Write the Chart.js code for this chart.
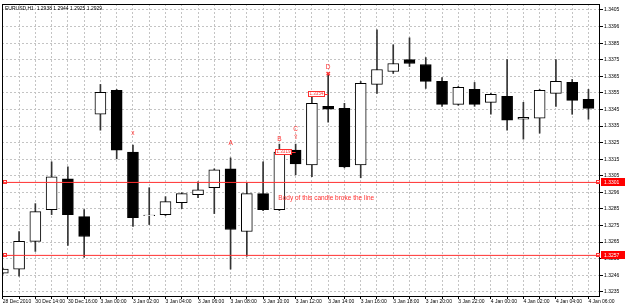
<!DOCTYPE html>
<html>
<head>
<meta charset="utf-8">
<script src="https://cdn.jsdelivr.net/npm/chart.js@4"></script>
<style>
  body { margin: 0; background: #fff; }
  #wrap { width: 625px; height: 308px; position: relative; }
</style>
</head>
<body>
<div id="wrap"><canvas id="chart"></canvas></div>
<script>
// EURUSD H1 candles
const opens  = [1.32463, 1.32487, 1.32654, 1.32846, 1.33032, 1.32804, 1.33421, 1.33565, 1.33193, 1.32810,
                1.32816, 1.32888, 1.32936, 1.32978, 1.33092, 1.32714, 1.32942, 1.32846, 1.33205, 1.33116,
                1.33469, 1.33457, 1.33116, 1.33601, 1.33679, 1.33751, 1.33721, 1.33619, 1.33481, 1.33571,
                1.33493, 1.33529, 1.33391, 1.33397, 1.33547, 1.33613, 1.33511];
const highs  = [1.32493, 1.32714, 1.32882, 1.33134, 1.33104, 1.32846, 1.33601, 1.33571, 1.33235, 1.32978,
                1.32924, 1.32948, 1.33014, 1.33092, 1.33158, 1.33008, 1.33134, 1.33241, 1.33241, 1.33541,
                1.33661, 1.33487, 1.33619, 1.33930, 1.33840, 1.33882, 1.33763, 1.33643, 1.33589, 1.33613,
                1.33547, 1.33751, 1.33493, 1.33571, 1.33751, 1.33631, 1.33571];
const lows   = [1.32457, 1.32445, 1.32594, 1.32816, 1.32630, 1.32559, 1.33325, 1.33152, 1.32744, 1.32756,
                1.32810, 1.32852, 1.32918, 1.32822, 1.32487, 1.32565, 1.32840, 1.32840, 1.33056, 1.33044,
                1.33373, 1.33098, 1.33038, 1.33547, 1.33667, 1.33709, 1.33577, 1.33469, 1.33475, 1.33469,
                1.33421, 1.33325, 1.33271, 1.33307, 1.33469, 1.33421, 1.33391];
const closes = [1.32487, 1.32654, 1.32834, 1.33044, 1.32816, 1.32684, 1.33553, 1.33205, 1.32798, 1.32813,
                1.32894, 1.32942, 1.32966, 1.33086, 1.32726, 1.32942, 1.32846, 1.33193, 1.33122, 1.33487,
                1.33451, 1.33104, 1.33607, 1.33691, 1.33727, 1.33727, 1.33619, 1.33481, 1.33583, 1.33481,
                1.33541, 1.33385, 1.33403, 1.33565, 1.33619, 1.33505, 1.33457];

// one time label on every second candle
const xTickLabels = ['28 Dec 2010', '30 Dec 14:00', '30 Dec 16:00', '3 Jan 00:00', '3 Jan 02:00', '3 Jan 04:00',
                     '3 Jan 06:00', '3 Jan 08:00', '3 Jan 10:00', '3 Jan 12:00', '3 Jan 14:00', '3 Jan 16:00',
                     '3 Jan 18:00', '3 Jan 20:00', '3 Jan 22:00', '4 Jan 00:00', '4 Jan 02:00', '4 Jan 04:00',
                     '4 Jan 06:00'];
const yTickValues = [1.3405, 1.3395, 1.3385, 1.3375, 1.3365, 1.3355, 1.3345, 1.3335, 1.3325, 1.3315,
                     1.3305, 1.3295, 1.3285, 1.3275, 1.3265, 1.3255, 1.3245, 1.3235];
const yTickLabels = ['1.3405', '1.3396', '1.3385', '1.3375', '1.3365', '1.3355', '1.3345', '1.3335', '1.3325', '1.3315',
                     '1.3305', '1.3296', '1.3285', '1.3275', '1.3265', '1.3255', '1.3246', '1.3235'];

const hLines = [1.3301, 1.3257];
const hLineLabels = ['1.3301', '1.3257'];

const marks = [
  { bar: 8,  price: 1.33307, text: 'x' },
  { bar: 14, price: 1.33247, text: 'A' },
  { bar: 17, price: 1.33271, text: 'B' },
  { bar: 18, price: 1.33331, text: 'C' },
  { bar: 18, price: 1.33283, text: '⇧' },
  { bar: 20, price: 1.33703, text: 'D' },
  { bar: 20, price: 1.33661, text: '✖' }
];
const priceBoxes = [
  { bar: 17, price: 1.33193, text: '1.3319' },
  { bar: 19, price: 1.33541, text: '1.3354' }
];
const note = { bar: 17, price: 1.32912, text: 'Body of this candle broke the line' };
const title = 'EURUSD,H1  1.2938 1.2944 1.2925 1.2929';

const X_MIN = -0.05, X_MAX = 36.71;
const RED = '#ff3030';
const FONT = '"Liberation Sans", "DejaVu Sans", sans-serif';

const overlay = {
  id: 'overlay',
  afterDatasetsDraw(chart) {
    const { ctx, chartArea: a, scales: { x, y } } = chart;
    ctx.save();
    ctx.fillStyle = RED;
    ctx.textAlign = 'center';
    ctx.textBaseline = 'middle';
    ctx.font = '6.5px ' + FONT;
    marks.forEach(m => {
      ctx.fillText(m.text, x.getPixelForValue(m.bar), y.getPixelForValue(m.price));
    });

    // little price boxes with a leader line
    ctx.font = '4.5px ' + FONT;
    ctx.strokeStyle = RED;
    ctx.lineWidth = 1;
    priceBoxes.forEach(b => {
      const px = Math.round(x.getPixelForValue(b.bar)) - 4;
      const py = Math.round(y.getPixelForValue(b.price));
      ctx.fillStyle = '#fff';
      ctx.fillRect(px, py - 3, 16, 6);
      ctx.strokeRect(px + 0.5, py - 2.5, 16, 5);
      ctx.beginPath();
      ctx.moveTo(px + 16, py + 0.5);
      ctx.lineTo(x.getPixelForValue(b.bar + 1), py + 0.5);
      ctx.stroke();
      ctx.fillStyle = RED;
      ctx.fillText(b.text, px + 8.5, py);
    });

    ctx.font = '6.5px ' + FONT;
    ctx.textAlign = 'left';
    ctx.fillText(note.text, x.getPixelForValue(note.bar) - 1, y.getPixelForValue(note.price));
    ctx.restore();
  },
  afterDraw(chart) {
    const { ctx, chartArea: a, scales: { y } } = chart;
    ctx.save();
    // frame
    ctx.strokeStyle = '#000';
    ctx.lineWidth = 1;
    ctx.strokeRect(a.left + 0.5, a.top + 0.5, a.right - a.left - 1, a.bottom - a.top - 1);

    // title
    ctx.fillStyle = '#000';
    ctx.font = '5px ' + FONT;
    ctx.textAlign = 'left';
    ctx.textBaseline = 'middle';
    ctx.fillText(title, a.left + 3, a.top + 5);

    // red line ends and axis labels
    hLines.forEach((v, i) => {
      const py = Math.round(y.getPixelForValue(v));
      ctx.strokeStyle = RED;
      ctx.strokeRect(a.left + 1.5, py - 1.5, 3, 3);
      ctx.strokeRect(a.right - 3.5, py - 1.5, 3, 3);
      ctx.fillStyle = '#ff0000';
      ctx.fillRect(a.right + 1, py - 4, 625 - a.right - 1, 8);
      ctx.fillStyle = '#fff';
      ctx.font = '5px ' + FONT;
      ctx.fillText(hLineLabels[i], a.right + 4, py + 0.5);
    });
    ctx.restore();
  }
};

const hLineSets = hLines.map(v => ({
  type: 'line',
  data: [{ x: X_MIN, y: v }, { x: X_MAX, y: v }],
  borderColor: RED,
  borderWidth: 1,
  pointRadius: 0,
  order: 0
}));

new Chart(document.getElementById('chart'), {
  type: 'bar',
  data: {
    datasets: [
      {
        label: 'wicks',
        data: opens.map((o, i) => ({ x: i, y: [lows[i], highs[i]] })),
        backgroundColor: '#333',
        borderWidth: 0,
        barThickness: 1,
        grouped: false,
        order: 2
      },
      {
        label: 'bodies',
        data: opens.map((o, i) => ({ x: i, y: [o, closes[i]] })),
        backgroundColor: opens.map((o, i) => closes[i] >= o ? '#fff' : '#000'),
        borderColor: '#000',
        borderWidth: 1,
        borderSkipped: false,
        barThickness: 11,
        grouped: false,
        order: 1
      },
      ...hLineSets
    ]
  },
  options: {
    responsive: true,
    maintainAspectRatio: false,
    animation: false,
    layout: { padding: { left: 2, top: 2, right: 0, bottom: 0 } },
    plugins: { legend: { display: false }, tooltip: { enabled: false } },
    scales: {
      x: {
        type: 'linear',
        min: X_MIN,
        max: X_MAX,
        offset: false,
        afterBuildTicks: s => { s.ticks = opens.map((o, i) => ({ value: i })); },
        afterFit: s => { s.height = 11; },
        grid: { color: '#c4c4c4', lineWidth: 1, offset: false, tickLength: 2, tickColor: '#000' },
        border: { display: false, dash: [2, 2] },
        ticks: {
          autoSkip: false,
          maxRotation: 0,
          minRotation: 0,
          align: 'start',
          padding: 0,
          color: '#000',
          font: { size: 5, family: FONT },
          callback: (v, i) => (i % 2 === 0 ? xTickLabels[i / 2] : '')
        }
      },
      y: {
        position: 'right',
        min: 1.32319,
        max: 1.34086,
        beginAtZero: false,
        afterBuildTicks: s => { s.ticks = yTickValues.map(v => ({ value: v })); },
        afterFit: s => { s.width = 25; },
        grid: { color: '#c4c4c4', lineWidth: 1, tickLength: 3, tickColor: '#000' },
        border: { display: false, dash: [2, 2] },
        ticks: {
          padding: 1,
          color: '#000',
          font: { size: 5, family: FONT },
          callback: (v, i) => yTickLabels[i]
        }
      }
    }
  },
  plugins: [overlay]
});
</script>
</body>
</html>
